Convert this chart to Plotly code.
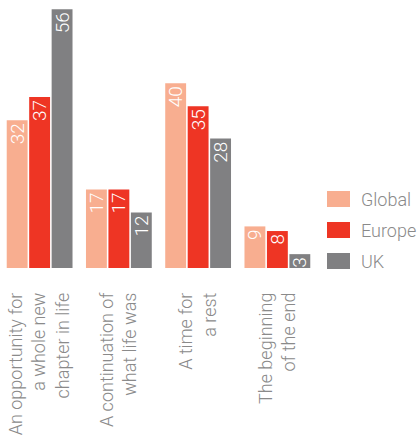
import plotly.graph_objects as go

# Survey responses (%) by region
categories = [
    "An opportunity for<br>a whole new<br>chapter in life",
    "A continuation of<br>what life was",
    "A time for<br>a rest",
    "The beginning<br>of the end",
]
series_names = ["Global", "Europe", "UK"]
global_values = [32, 17, 40, 9]
europe_values = [37, 17, 35, 8]
uk_values = [56, 12, 28, 3]
series_colors = ["#F8AE90", "#EE3524", "#808082"]

W, H = 420, 448
M_L, M_R, M_T, M_B = 0, 103, 0, 180
PLOT_W = W - M_L - M_R
PLOT_H = H - M_T - M_B

FONT = "Roboto, 'Liberation Sans', Arial, sans-serif"
TEXT_GREY = "#8a8a8a"

fig = go.Figure()
for name, values, color in zip(series_names, [global_values, europe_values, uk_values], series_colors):
    fig.add_trace(go.Bar(
        name=name,
        x=categories,
        y=values,
        marker=dict(color=color, line=dict(width=0)),
        texttemplate="%{y}",
        textposition="inside",
        textangle=-90,
        insidetextfont=dict(color="white", size=19, family=FONT, weight=300),
        constraintext="none",
        showlegend=False,
        hoverinfo="skip",
    ))


def px_x(px):
    return (px - M_L) / PLOT_W


def px_y(py):
    return 1 - (py - M_T) / PLOT_H


# Legend: colour swatches with series names
shapes, annotations = [], []
swatch_x0, swatch_x1 = 327, 350
row_centers = [199, 230, 261]
for name, color, cy in zip(series_names, series_colors, row_centers):
    shapes.append(dict(
        type="rect", xref="paper", yref="paper",
        x0=px_x(swatch_x0), x1=px_x(swatch_x1),
        y0=px_y(cy + 8), y1=px_y(cy - 8),
        fillcolor=color, line=dict(width=0),
    ))
    annotations.append(dict(
        text=name, xref="paper", yref="paper",
        x=px_x(359), y=px_y(cy), xanchor="left", yanchor="middle",
        showarrow=False,
        font=dict(family=FONT, size=18, color=TEXT_GREY, weight=300),
    ))

fig.update_layout(
    width=W, height=H,
    margin=dict(l=M_L, r=M_R, t=M_T, b=M_B, pad=0),
    paper_bgcolor="white", plot_bgcolor="white",
    barmode="group", bargap=0.15, bargroupgap=0.07,
    shapes=shapes, annotations=annotations,
    font=dict(family=FONT, color=TEXT_GREY, weight=300),
    xaxis=dict(
        tickangle=-90, ticks="", showline=False, showgrid=False, zeroline=False,
        tickfont=dict(size=18, color=TEXT_GREY, family=FONT, weight=300),
        ticklabelstandoff=20,
        range=[-0.5, 3.5],
    ),
    yaxis=dict(
        range=[0, 58], visible=False, showgrid=False, zeroline=False,
    ),
)

fig.write_html("out.html")
